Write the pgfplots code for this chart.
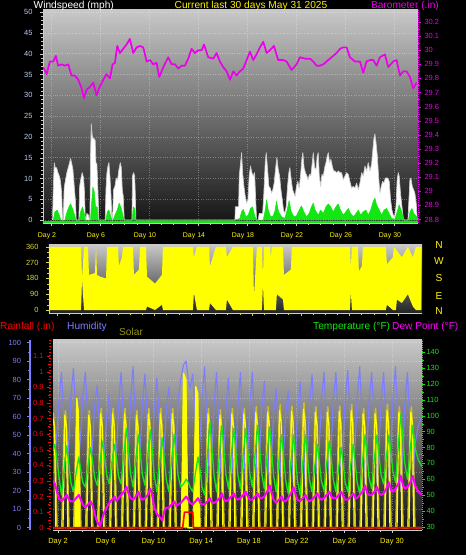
\documentclass[border=0pt]{standalone}
\usepackage{pgfplots}
\usepackage{pgfplotstable}
\pgfplotsset{compat=1.18}
\usepackage{fontspec}
\setmainfont{Liberation Sans}
\definecolor{hum}{RGB}{125,125,255}
\definecolor{tmp}{RGB}{20,230,20}
\definecolor{dew}{RGB}{255,0,255}
\definecolor{olv}{RGB}{205,190,40}
\definecolor{ylw}{RGB}{255,255,0}
\definecolor{wl}{RGB}{185,205,245}
\definecolor{dirl}{RGB}{215,215,60}
\definecolor{baro}{RGB}{235,0,235}
\definecolor{bgtop}{RGB}{200,200,200}
\definecolor{bgbot}{RGB}{20,20,20}
\definecolor{bgmid}{RGB}{35,35,35}
\definecolor{lgr}{RGB}{205,205,205}
\definecolor{solt}{RGB}{150,150,20}

\pgfplotstableread{
t T H D
1.58 78 45 59
1.74 82 40 57
1.92 72 52 52
2.07 62 68 48
2.29 50 84 46
2.52 67 56 48
2.74 81 28 50
2.92 69 48 47
3.07 58 70 46
3.29 52 86 46
3.52 64 60 48
3.74 74 35 50
3.92 65 53 47
4.07 58 71 44
4.29 55 84 42
4.52 69 56 44
4.74 80 28 46
4.92 70 48 43
5.07 61 66 38
5.29 56 77 33
5.52 71 50 30
5.74 84 24 36
5.92 73 42 40
6.07 63 60 42
6.29 57 72 45
6.52 71 49 47
6.74 82 26 49
6.92 72 42 46
7.07 62 66 48
7.29 57 84 50
7.52 76 53 52
7.74 92 22 55
7.92 78 44 51
8.07 64 68 48
8.29 55 87 47
8.52 73 54 49
8.74 88 22 52
8.92 75 45 48
9.07 63 67 47
9.29 56 83 48
9.52 75 52 50
9.74 91 22 54
9.92 77 43 49
10.07 62 65 42
10.29 52 81 38
10.52 71 53 36
10.74 86 25 34
10.92 72 45 40
11.07 60 63 42
11.29 52 76 42
11.52 72 50 44
11.74 88 25 46
11.92 74 43 43
12.07 62 70 44
12.29 55 80 45
12.52 57 88 47
12.74 60 90 49
12.92 58 80 47
13.07 55 75 45
13.29 52 83 44
13.52 64 58 46
13.74 74 32 48
13.92 65 50 45
14.07 55 71 44
14.29 50 87 44
14.52 75 52 46
14.74 96 18 48
14.92 78 42 45
15.07 63 66 45
15.29 52 84 46
15.52 75 51 48
15.74 94 18 51
15.92 77 41 47
16.07 63 64 46
16.29 54 81 47
16.52 75 50 49
16.74 92 20 51
16.92 77 41 48
17.07 63 65 47
17.29 54 84 48
17.52 75 52 50
17.74 92 20 52
17.92 77 42 49
18.07 64 66 47
18.29 55 84 47
18.52 76 51 49
18.74 94 19 51
18.92 78 42 48
19.07 64 63 48
19.29 54 79 49
19.52 75 49 52
19.74 93 20 56
19.92 77 41 51
20.07 62 61 47
20.29 52 75 45
20.52 72 48 47
20.74 88 22 49
20.92 74 41 46
21.07 60 60 46
21.29 51 74 48
21.52 71 48 51
21.74 88 22 55
21.92 73 40 50
22.07 59 62 47
22.29 50 79 46
22.52 71 50 48
22.74 88 22 50
22.92 73 42 47
23.07 60 65 46
23.29 52 83 47
23.52 68 54 49
23.74 82 26 51
23.92 70 46 48
24.07 59 68 47
24.29 53 84 48
24.52 70 55 50
24.74 84 26 52
24.92 72 46 49
25.07 60 68 48
25.29 52 84 48
25.52 67 56 50
25.74 80 28 52
25.92 69 48 49
26.07 58 69 47
26.29 52 85 47
26.52 68 56 49
26.74 82 27 51
26.92 70 47 48
27.07 58 70 48
27.29 51 87 50
27.52 71 55 52
27.74 88 24 56
27.92 73 46 51
28.07 61 68 50
28.29 54 84 50
28.52 73 54 52
28.74 88 24 55
28.92 74 45 51
29.07 63 67 50
29.29 57 84 51
29.52 74 55 54
29.74 88 26 58
29.92 76 46 53
30.07 65 69 52
30.29 58 87 54
30.52 81 53 57
30.74 101 20 62
30.92 84 43 56
31.07 70 66 54
31.29 60 84 55
31.52 79 54 58
31.74 94 24 62
31.92 80 45 56
32.2 72 55 52
32.5 68 60 50
}\bottab

\pgfplotsset{
  base/.style={scale only axis, anchor=south west,
    /pgf/number format/assume math mode=true,
    ticklabel style={font=\fontsize{7.5}{8}\selectfont},
    tick align=outside, major tick length=3bp, minor tick length=1.6bp,
    axis line style={-}},
  bgshade/.style={axis background/.style={top color=bgtop, bottom color=bgbot}},
  every axis plot/.append style={line join=round},
}

\begin{document}
\begin{tikzpicture}
\fill[black] (0,0) rectangle (466bp,555bp);

% ---------------- top panel: wind speed ----------------
\begin{axis}[base, bgshade, at={(43bp,332bp)}, width=375bp, height=213bp,
  xmin=1.35, xmax=31.96, ymin=-0.7, ymax=50.5,
  axis y line*=left, axis x line*=bottom,
  axis line style={draw=lgr},
  xtick={2,6,...,30}, xticklabels={Day 2,Day 6,Day 10,Day 14,Day 18,Day 22,Day 26,Day 30},
  minor x tick num=3,
  ytick={0,5,...,50}, minor y tick num=4,
  xticklabel style={text=yellow, font=\fontsize{7}{8}\selectfont, xshift=-4bp, yshift=-3bp},
  yticklabel style={text=wl, xshift=-4bp},
  tick style={draw=lgr},
  grid=major, major grid style={draw=white, opacity=0.3, dotted}]
\addplot[fill=white, draw=lgr, line width=0.7pt] coordinates {
(2.13,0)(2.19,7.7)(2.27,13.8)(2.35,12.6)(2.46,12.6)(2.57,11.4)(2.68,10.6)(2.78,9.3)(2.87,6.5)(2.95,0)
(3.00,0)(3.08,7.7)(3.19,9.7)(3.30,11.4)(3.41,12.6)(3.52,13.8)(3.60,14.8)(3.68,13.8)(3.79,12.2)(3.90,8.1)(4.01,4.1)(4.06,0)
(4.28,0)(4.34,8.1)(4.45,10.1)(4.55,11.4)(4.66,10.1)(4.74,6.5)(4.80,0)
(4.85,0)(4.93,1.6)(5.07,1.2)(5.12,0)
(5.18,0)(5.23,15.4)(5.29,23.1)(5.37,20.3)(5.45,19.5)(5.53,19.6)(5.61,19.1)(5.67,13.8)(5.75,13.4)(5.83,7.3)(5.91,0)
(6.43,0)(6.49,7.3)(6.57,11.4)(6.65,13)(6.73,13.8)(6.81,10.6)(6.89,6.5)(6.98,0)
(7.03,0)(7.11,7.3)(7.22,8.1)(7.33,10.1)(7.44,9.7)(7.55,12.2)(7.66,13.8)(7.74,12.6)(7.82,7.3)(7.90,5.7)(7.98,0)
(8.61,0)(8.66,10.6)(8.74,11.4)(8.83,10.6)(8.88,6.5)(8.93,0)
(17.02,0)(17.05,3.2)(17.32,3.2)(17.37,10.6)(17.48,13.8)(17.56,16.2)(17.64,11.4)(17.75,8.1)(17.86,5.7)(17.97,4.1)
(18.08,4.9)(18.18,10.6)(18.29,13)(18.40,11.4)(18.51,10.6)(18.62,11.4)(18.70,5.7)(18.78,0)(18.92,0)(19.00,1.6)
(19.28,1.6)(19.38,6.5)(19.49,13.8)(19.57,16.2)(19.68,12.2)(19.79,8.1)(19.90,7.7)(20.01,6.5)(20.11,7.3)(20.22,8.9)
(20.33,12.2)(20.44,15)(20.55,12.2)(20.66,10.6)(20.77,7.3)(20.88,4.9)(20.98,2.4)(21.09,1.6)(21.20,3.2)(21.31,8.1)
(21.42,11.4)(21.50,12.6)(21.61,9.7)(21.72,7.3)(21.83,6.5)(21.93,5.7)(22.04,8.1)(22.15,9.3)(22.26,7.7)(22.37,10.6)
(22.48,14.6)(22.56,16.2)(22.66,12.6)(22.77,11.4)(22.89,10.6)(22.99,9.7)(23.10,11)(23.21,10.6)(23.33,13.8)(23.41,16.2)
(23.52,12.6)(23.63,12.2)(23.74,15.4)(23.82,16.2)(23.90,10.6)(24.01,8.1)(24.12,11)(24.23,10.6)(24.34,12.6)(24.45,13.8)
(24.55,15.4)(24.64,16.2)(24.74,13.8)(24.85,14.6)(24.96,13)(25.07,11.8)(25.18,11.8)(25.32,11.4)(25.45,11.8)(25.59,11.4)
(25.72,11.4)(25.86,9.7)(26.00,10.6)(26.13,11.4)(26.27,11)(26.40,9.3)(26.54,7.7)(26.68,8.1)(26.81,7.7)(26.95,8.9)
(27.09,7.3)(27.22,8.9)(27.36,11.4)(27.49,10.6)(27.63,13)(27.76,11.8)(27.90,13.8)(28.04,11.8)(28.17,13.4)(28.28,17)
(28.36,19.5)(28.44,20.7)(28.53,18.7)(28.64,15.4)(28.74,10.6)(28.85,6.5)(28.96,8.1)(29.07,9.3)(29.18,8.9)(29.29,10.1)
(29.40,10.1)(29.50,10.1)(29.61,9.3)(29.72,4.9)(29.83,2.4)(29.94,1.2)(30.05,0.8)(30.16,3.2)(30.26,9.7)(30.35,11.4)
(30.42,10.6)(30.53,6.5)(30.65,3.2)(30.76,0.4)(30.86,0)(31.14,0)(31.22,4.9)(31.30,9.7)(31.38,10.1)(31.49,8.1)
(31.60,7.3)(31.70,6.5)(31.81,4.1)(31.90,0)};
\addplot[fill=tmp, draw=tmp, line width=0.5pt] coordinates {
(2.19,0)(2.32,2.0)(2.51,2.4)(2.68,1.2)(2.81,0)
(3.14,0)(3.27,1.6)(3.47,3.2)(3.60,3.9)(3.76,2.8)(3.93,1.2)(4.04,0)
(4.31,0)(4.42,2)(4.58,3.2)(4.72,1.6)(4.80,0)
(5.23,0)(5.32,4.1)(5.42,8.0)(5.53,6.9)(5.64,3.2)(5.78,3.2)(5.86,0)
(6.49,0)(6.60,2)(6.73,2.4)(6.89,0.8)(6.98,0)
(7.08,0)(7.22,1.2)(7.41,2.4)(7.57,4.1)(7.74,2.8)(7.90,0.8)(7.98,0)
(8.64,0)(8.72,3.2)(8.83,2.8)(8.91,0)
(17.02,0)(17.42,0.4)(17.56,2)(17.70,2.6)(17.91,0.8)(18.10,1.2)(18.29,2.8)(18.46,3.2)(18.65,0.8)(18.84,0)
(19.33,0)(19.49,2.4)(19.60,4.9)(19.74,2.4)(19.93,0.8)(20.14,1)(20.30,2.4)(20.41,4.5)(20.58,2)(20.82,0.8)
(21.09,0.4)(21.28,2.4)(21.44,4.7)(21.61,2)(21.83,0.8)(22.04,1)(22.26,2.4)(22.45,3.4)(22.64,2)(22.86,0.8)
(23.07,1.6)(23.26,3.2)(23.41,4.1)(23.57,2.4)(23.82,1.2)(24.01,2.4)(24.23,1.6)(24.45,3.2)(24.64,3.9)(24.83,3.2)
(25.04,2)(25.26,3.2)(25.45,3.9)(25.64,2.4)(25.86,1.2)(26.07,2)(26.27,2.8)(26.46,1.6)(26.68,0.8)(26.90,1.6)
(27.09,2.4)(27.28,1.2)(27.49,2)(27.71,2.4)(27.90,1.2)(28.09,2.4)(28.31,4.5)(28.44,5.3)(28.58,3.7)(28.80,2.4)
(28.99,1.2)(29.18,2.4)(29.40,2.8)(29.61,1.6)(29.80,0.4)(30.07,0.2)(30.26,2)(30.42,3.7)(30.59,2.4)(30.76,0.4)
(30.92,0)(31.19,0)(31.30,2)(31.46,2.8)(31.62,1.6)(31.85,0.8)(31.92,0)};
\addplot[tmp, line width=1.2pt] coordinates {(1.35,-0.45)(31.96,-0.45)};
\end{axis}

% ---------------- top panel: barometer ----------------
\begin{axis}[base, at={(43bp,332bp)}, width=375bp, height=213bp,
  xmin=1.35, xmax=31.96, ymin=28.775, ymax=30.285,
  axis y line*=right, axis x line=none,
  axis line style={draw=baro, dash pattern=on 1bp off 1bp},
  ytick={28.8,28.9,29,29.1,29.2,29.3,29.4,29.5,29.6,29.7,29.8,29.9,30,30.1,30.2},
  minor y tick num=1,
  yticklabel style={text=baro}, tick style={draw=baro}]
\addplot[baro, line width=1.7pt] coordinates {
(1.37,29.88)(1.64,29.83)(1.91,29.92)(2.19,29.92)(2.40,29.96)(2.59,29.89)(2.87,29.90)(3.14,29.89)(3.41,29.90)(3.68,29.82)
(3.96,29.82)(4.23,29.79)(4.50,29.73)(4.69,29.66)(4.91,29.72)(5.18,29.74)(5.45,29.77)(5.72,29.68)(5.98,29.74)(6.27,29.79)
(6.54,29.83)(6.81,29.80)(7.03,29.90)(7.22,29.91)(7.41,30.03)(7.63,29.98)(7.90,30.01)(8.17,30.04)(8.44,30.08)(8.72,29.98)
(8.99,30.02)(9.26,30.03)(9.53,30.02)(9.81,29.92)(10.08,29.93)(10.35,29.90)(10.62,29.91)(10.84,29.81)(11.17,29.88)(11.57,29.95)
(11.85,29.90)(12.12,29.90)(12.39,29.87)(12.66,29.89)(12.93,29.89)(13.21,29.94)(13.48,30.01)(13.75,29.98)(14.02,30.00)(14.30,30.00)
(14.49,30.04)(14.84,29.95)(15.25,29.94)(15.52,29.98)(15.79,29.92)(16.06,29.88)(16.34,29.85)(16.61,29.79)(16.88,29.85)(17.15,29.82)
(17.42,29.85)(17.70,29.87)(17.97,29.93)(18.24,29.99)(18.51,29.93)(18.78,29.97)(19.06,30.02)(19.33,30.06)(19.60,29.98)(19.87,30.00)
(20.20,30.03)(20.55,29.93)(20.96,29.93)(21.23,29.92)(21.64,29.86)(22.05,29.90)(22.32,29.95)(22.73,29.94)(23.14,29.94)(23.41,29.92)
(23.68,29.89)(23.96,29.89)(24.23,29.90)(24.50,29.92)(24.77,29.94)(25.04,29.96)(25.32,29.98)(25.59,30.01)(25.86,30.02)(26.13,30.02)
(26.40,29.95)(26.81,29.92)(27.22,29.92)(27.49,29.84)(27.76,29.92)(28.04,29.93)(28.31,29.93)(28.58,29.89)(28.85,29.95)(29.26,29.97)
(29.53,29.88)(29.94,29.92)(30.21,29.93)(30.49,29.82)(30.76,29.85)(31.03,29.85)(31.30,29.81)(31.57,29.73)(31.85,29.77)};
\end{axis}

% ---------------- middle panel: wind direction ----------------
\begin{axis}[base, at={(49bp,242bp)}, width=373bp, height=68bp,
  axis background/.style={top color=bgtop, bottom color=bgmid},
  xmin=1.35, xmax=31.96, ymin=-17, ymax=370,
  axis y line*=left, axis x line*=bottom,
  axis line style={draw=lgr},
  ytick={0,90,180,270,360}, minor y tick num=2,
  xtick={2,6,...,30}, xticklabels={}, minor x tick num=3,
  yticklabel style={text=dirl, xshift=-4bp}, tick style={draw=dirl}]
\addplot[fill=ylw, draw=none] coordinates {
(1.39,360)(3.98,360)(4.06,180)(4.22,360)(4.55,360)(4.63,200)(5.12,210)(5.21,360)(5.29,200)(5.53,190)
(6.03,180)(6.11,360)(7.01,360)(7.09,250)(7.34,300)(7.42,360)(8.24,360)(8.32,200)(8.73,230)(8.82,360)
(9.31,360)(9.39,190)(10.05,150)(10.62,200)(10.70,360)(13.16,360)(13.24,300)(13.49,360)(14.48,360)(14.56,250)
(15.05,360)(15.87,360)(15.95,300)(16.44,360)(18.08,360)(18.17,80)(18.41,360)(18.82,360)(18.91,200)(18.99,360)
(19.48,360)(19.56,300)(19.64,360)(20.55,360)(20.63,200)(21.20,230)(21.28,360)(26.04,360)(26.12,250)(26.21,360)
(26.70,360)(26.78,220)(27.03,250)(27.11,360)(28.99,360)(29.08,260)(29.57,300)(29.65,360)(30.31,300)(30.80,360)
(31.21,300)(31.46,360)(31.91,360)
(31.91,0)(31.46,0)(31.21,20)(30.80,90)(30.31,40)(29.90,60)(29.82,0)(29.57,0)(29.08,30)(28.99,0)
(26.21,0)(26.12,100)(26.04,0)(20.63,0)(20.55,60)(20.05,90)(19.97,0)(18.99,0)(18.91,150)(18.82,0)
(16.44,0)(15.95,60)(15.87,0)(15.05,0)(14.56,40)(14.48,0)(13.49,0)(13.24,100)(13.16,0)(10.70,0)
(10.62,30)(10.05,0)(9.39,20)(9.31,0)(4.22,0)(4.06,180)(3.98,0)(1.39,0)};
\end{axis}

% ---------------- bottom panel ----------------
\begin{axis}[base, at={(53bp,25bp)}, width=369bp, height=190bp,
  axis background/.style={top color=bgtop, bottom color=bgbot},
  xmin=1.58, xmax=32.51, ymin=0, ymax=1,
  axis x line*=bottom, axis y line=none, ytick=\empty,
  axis line style={draw=lgr, line width=1pt},
  xtick={2,6,...,30}, xticklabels={Day 2,Day 6,Day 10,Day 14,Day 18,Day 22,Day 26,Day 30},
  minor x tick num=3,
  xticklabel style={text=yellow, font=\fontsize{7.5}{8}\selectfont, yshift=-2bp},
  tick style={draw=lgr},
  xmajorgrids, major grid style={draw=white, opacity=0.3, dotted}]
\end{axis}
\begin{axis}[base, at={(53bp,25bp)}, width=369bp, height=190bp,
  xmin=1.58, xmax=32.51, ymin=-1.24, ymax=101.46,
  axis y line*=left, axis x line=none,
  y axis line style={draw=hum, line width=2.2pt, xshift=-23bp},
  ytick={0,10,...,100}, minor y tick num=1,
  tick style={draw=hum, line width=0.8pt, xshift=-23bp},
  yticklabel style={text=hum, xshift=-25.5bp},
  ymajorgrids, major grid style={draw=white, opacity=0.3, dotted}]
\addplot[hum, line width=1.1pt] table[x=t, y=H] {\bottab};
\end{axis}
\begin{axis}[base, at={(53bp,25bp)}, width=369bp, height=190bp,
  xmin=1.58, xmax=32.51, ymin=-14.7, ymax=1203, hide axis]
\addplot[olv, line width=1.5pt] coordinates {
(1.58,720)(1.62,733)(1.74,586)(1.92,0)
(2.32,0)(2.50,600)(2.62,750)(2.74,600)(2.92,0)
(3.32,0)(3.50,608)(3.62,760)(3.74,608)(3.92,0)
(4.32,0)(4.50,600)(4.62,750)(4.74,600)(4.92,0)
(5.32,0)(5.50,612)(5.62,765)(5.74,612)(5.92,0)
(6.32,0)(6.50,612)(6.62,765)(6.74,612)(6.92,0)
(7.32,0)(7.50,612)(7.62,765)(7.74,612)(7.92,0)
(8.32,0)(8.50,600)(8.62,750)(8.74,600)(8.92,0)
(9.32,0)(9.50,612)(9.62,765)(9.74,612)(9.92,0)
(10.32,0)(10.50,612)(10.62,765)(10.74,612)(10.92,0)
(11.32,0)(11.50,612)(11.62,765)(11.74,612)(11.92,0)
(12.32,0)(12.50,560)(12.62,700)(12.74,560)(12.92,0)
(13.32,0)(13.50,608)(13.62,760)(13.74,608)(13.92,0)
(14.32,0)(14.50,612)(14.62,765)(14.74,612)(14.92,0)
(15.32,0)(15.50,604)(15.62,755)(15.74,604)(15.92,0)
(16.32,0)(16.50,612)(16.62,765)(16.74,612)(16.92,0)
(17.32,0)(17.50,612)(17.62,765)(17.74,612)(17.92,0)
(18.32,0)(18.50,620)(18.62,775)(18.74,620)(18.92,0)
(19.32,0)(19.50,620)(19.62,775)(19.74,620)(19.92,0)
(20.32,0)(20.50,632)(20.62,790)(20.74,632)(20.92,0)
(21.32,0)(21.50,624)(21.62,780)(21.74,624)(21.92,0)
(22.32,0)(22.50,640)(22.62,800)(22.74,640)(22.92,0)
(23.32,0)(23.50,620)(23.62,775)(23.74,620)(23.92,0)
(24.32,0)(24.50,620)(24.62,775)(24.74,620)(24.92,0)
(25.32,0)(25.50,624)(25.62,780)(25.74,624)(25.92,0)
(26.32,0)(26.50,632)(26.62,790)(26.74,632)(26.92,0)
(27.32,0)(27.50,612)(27.62,765)(27.74,612)(27.92,0)
(28.32,0)(28.50,612)(28.62,765)(28.74,612)(28.92,0)
(29.32,0)(29.50,632)(29.62,790)(29.74,632)(29.92,0)
(30.32,0)(30.50,620)(30.62,775)(30.74,620)(30.92,0)
(31.32,0)(31.50,620)(31.62,775)(31.74,620)(31.92,0)(32.5,0)};
\addplot[ylw, line width=1.2pt] coordinates {
(1.58,700)(1.70,650)(1.82,0)
(2.42,0)(2.57,720)(2.70,648)(2.82,0)
(3.42,0)(3.57,830)(3.70,747)(3.82,0)
(4.42,0)(4.57,720)(4.70,648)(4.82,0)
(5.42,0)(5.57,730)(5.70,657)(5.82,0)
(6.42,0)(6.57,730)(6.70,657)(6.82,0)
(7.42,0)(7.57,730)(7.70,657)(7.82,0)
(8.42,0)(8.57,720)(8.70,648)(8.82,0)
(9.42,0)(9.57,730)(9.70,657)(9.82,0)
(10.42,0)(10.57,730)(10.70,657)(10.82,0)
(11.42,0)(11.57,730)(11.70,657)(11.82,0)
(12.35,0)(12.52,990)(12.72,950)(12.88,0)
(13.38,0)(13.55,904)(13.72,860)(13.85,0)
(14.42,0)(14.57,730)(14.70,657)(14.82,0)
(15.42,0)(15.57,720)(15.70,648)(15.82,0)
(16.42,0)(16.57,730)(16.70,657)(16.82,0)
(17.42,0)(17.57,730)(17.70,657)(17.82,0)
(18.42,0)(18.57,740)(18.70,666)(18.82,0)
(19.42,0)(19.57,740)(19.70,666)(19.82,0)
(20.42,0)(20.57,750)(20.70,675)(20.82,0)
(21.42,0)(21.57,745)(21.70,670)(21.82,0)
(22.42,0)(22.57,760)(22.70,684)(22.82,0)
(23.42,0)(23.57,740)(23.70,666)(23.82,0)
(24.42,0)(24.57,740)(24.70,666)(24.82,0)
(25.42,0)(25.57,745)(25.70,670)(25.82,0)
(26.42,0)(26.57,750)(26.70,675)(26.82,0)
(27.42,0)(27.57,730)(27.70,657)(27.82,0)
(28.42,0)(28.57,730)(28.70,657)(28.82,0)
(29.42,0)(29.57,750)(29.70,675)(29.82,0)
(30.42,0)(30.57,740)(30.70,666)(30.82,0)
(31.42,0)(31.57,740)(31.70,666)(31.82,0)};
\addplot[fill=ylw, draw=ylw] coordinates {(3.42,0)(3.57,830)(3.70,747)(3.82,0)};
\addplot[fill=ylw, draw=ylw] coordinates {(12.35,0)(12.52,990)(12.72,950)(12.88,0)};
\addplot[fill=ylw, draw=ylw] coordinates {(13.38,0)(13.55,904)(13.72,860)(13.85,0)};
\end{axis}
\begin{axis}[base, at={(53bp,25bp)}, width=369bp, height=190bp,
  xmin=1.58, xmax=32.51, ymin=27.9, ymax=147.8,
  axis y line*=right, axis x line=none,
  y axis line style={draw=tmp, dash pattern=on 1bp off 1bp},
  ytick={30,40,...,140}, minor y tick num=1,
  tick style={draw=tmp}, yticklabel style={text=tmp, xshift=-2bp}]
\addplot[tmp, line width=1.3pt] table[x=t, y=T] {\bottab};
\addplot[dew, line width=2pt] table[x=t, y=D] {\bottab};
\end{axis}
\begin{axis}[base, at={(53bp,25bp)}, width=369bp, height=190bp,
  xmin=1.58, xmax=32.51, ymin=-0.0147, ymax=1.203,
  axis y line*=left, axis x line=none,
  y axis line style={draw=red, line width=1.5pt, dash pattern=on 1.5bp off 1.5bp, xshift=-3bp},
  ytick={0,0.1,0.2,0.3,0.4,0.5,0.6,0.7,0.8,0.9,1,1.1}, minor y tick num=1,
  tick style={draw=red, xshift=-3bp}, yticklabel style={text=red, xshift=-3bp}]
\addplot[red, line width=1.6pt] coordinates {(1.58,0)(12.45,0)(12.6,0.1)(13.3,0.1)(13.35,0)(32.5,0)};
\end{axis}

% ---------------- texts ----------------
\begin{scope}[every node/.style={inner sep=0pt, font=\fontsize{10.2}{12}\selectfont}]
\node[anchor=west, text=white] at (33.5bp,549.5bp) {Windspeed (mph)};
\node[text=yellow] at (251bp,549.5bp) {Current last 30 days May 31 2025};
\node[anchor=east, text=baro] at (439bp,549.5bp) {Barometer (.in)};
\node[text=yellow] at (439bp,309.5bp) {N};
\node[text=yellow] at (439bp,294bp) {W};
\node[text=yellow] at (439bp,276.7bp) {S};
\node[text=yellow] at (439bp,259.3bp) {E};
\node[text=yellow] at (439bp,244bp) {N};
\node[anchor=west, text=red] at (0bp,228.3bp) {Rainfall (.in)};
\node[anchor=west, text=hum] at (67bp,228.3bp) {Humidity};
\node[anchor=west, text=solt] at (119bp,223.3bp) {Solar};
\node[anchor=west, text=tmp] at (313bp,228.3bp) {Temperature (°F)};
\node[anchor=west, text=dew] at (392bp,228.3bp) {Dew Point (°F)};
\end{scope}
\pgfresetboundingbox
\path[use as bounding box] (0,0) rectangle (466bp,555bp);
\end{tikzpicture}
\end{document}
